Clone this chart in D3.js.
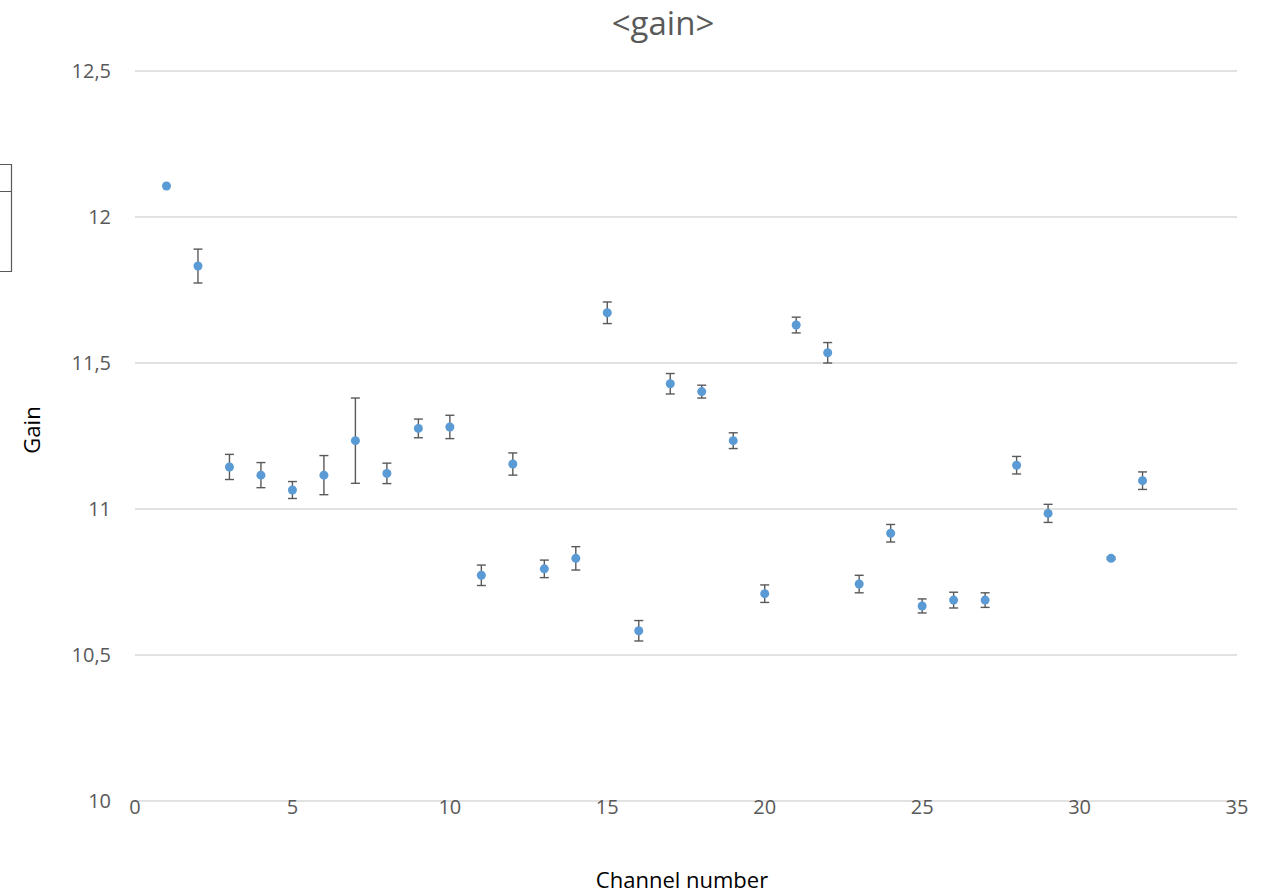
<!DOCTYPE html>
<html>
<head>
<meta charset="utf-8">
<script src="https://cdn.jsdelivr.net/npm/d3@7"></script>
<style>
  body { margin: 0; background: #fff; }
  svg text { font-family: "Open Sans", "Noto Sans", sans-serif; }
</style>
</head>
<body>
<svg id="chart" width="1265" height="895"></svg>
<script>
// ===== DATA =====
const channels = [1, 2, 3, 4, 5, 6, 7, 8, 9, 10, 11, 12, 13, 14, 15, 16,
  17, 18, 19, 20, 21, 22, 23, 24, 25, 26, 27, 28, 29, 31, 32];
const gains = [12.106, 11.832, 11.144, 11.116, 11.065, 11.116, 11.234, 11.122,
  11.276, 11.281, 10.773, 11.154, 10.795, 10.831, 11.672, 10.583,
  11.429, 11.402, 11.234, 10.710, 11.630, 11.535, 10.743, 10.917,
  10.668, 10.688, 10.688, 11.150, 10.985, 10.831, 11.097];
const errors = [0, 0.058, 0.043, 0.043, 0.029, 0.067, 0.146, 0.035,
  0.032, 0.04, 0.035, 0.038, 0.03, 0.04, 0.037, 0.035,
  0.035, 0.022, 0.027, 0.03, 0.027, 0.035, 0.03, 0.03,
  0.024, 0.027, 0.025, 0.03, 0.031, 0.004, 0.03];
const xTicks = [0, 5, 10, 15, 20, 25, 30, 35];
const yTicks = [10, 10.5, 11, 11.5, 12, 12.5];

const points = channels.map((c, i) => ({ ch: c, gain: gains[i], err: errors[i] }));

// ===== LAYOUT =====
const svg = d3.select("#chart");
const plotLeft = 135, plotRight = 1237, plotTop = 71, plotBottom = 801;

const x = d3.scaleLinear().domain([0, 35]).range([plotLeft, plotRight]);
const y = d3.scaleLinear().domain([10, 12.5]).range([plotBottom, plotTop]);

// gridlines
svg.append("g")
  .selectAll("line")
  .data(yTicks)
  .join("line")
  .attr("x1", plotLeft)
  .attr("x2", plotRight)
  .attr("y1", d => y(d))
  .attr("y2", d => y(d))
  .attr("stroke", "#d9d9d9")
  .attr("stroke-width", 1.3);

// y tick labels
const fmt = d => String(d).replace(".", ",");
svg.append("g")
  .selectAll("text")
  .data(yTicks)
  .join("text")
  .attr("x", 111)
  .attr("y", d => y(d) + 7)
  .attr("text-anchor", "end")
  .attr("font-size", "20px")
  .attr("fill", "#595959")
  .text(fmt);

// x tick labels
svg.append("g")
  .selectAll("text")
  .data(xTicks)
  .join("text")
  .attr("x", d => x(d))
  .attr("y", 814)
  .attr("text-anchor", "middle")
  .attr("font-size", "20px")
  .attr("fill", "#595959")
  .text(d => d);

// title + axis titles
svg.append("text")
  .attr("x", 663)
  .attr("y", 35)
  .attr("text-anchor", "middle")
  .attr("font-size", "33px")
  .attr("fill", "#595959")
  .text("<gain>");

svg.append("text")
  .attr("x", 682)
  .attr("y", 888)
  .attr("text-anchor", "middle")
  .attr("font-size", "22px")
  .attr("fill", "#000")
  .text("Channel number");

svg.append("text")
  .attr("transform", "translate(40,430) rotate(-90)")
  .attr("text-anchor", "middle")
  .attr("font-size", "22px")
  .attr("fill", "#000")
  .text("Gain");

// clipped legend box at left edge
svg.append("path")
  .attr("d", "M-1,164.5 H11.5 V271.5 H-1 M-1,191.5 H11.5")
  .attr("fill", "none")
  .attr("stroke", "#595959")
  .attr("stroke-width", 1.2);

// error bars
const bars = svg.append("g")
  .attr("stroke", "#595959")
  .attr("stroke-width", 1.4)
  .selectAll("g")
  .data(points.filter(d => d.err > 0))
  .join("g");

bars.append("line")
  .attr("x1", d => x(d.ch))
  .attr("x2", d => x(d.ch))
  .attr("y1", d => y(d.gain + d.err))
  .attr("y2", d => y(d.gain - d.err));

bars.append("line")
  .attr("x1", d => x(d.ch) - 4.5)
  .attr("x2", d => x(d.ch) + 4.5)
  .attr("y1", d => y(d.gain + d.err))
  .attr("y2", d => y(d.gain + d.err));

bars.append("line")
  .attr("x1", d => x(d.ch) - 4.5)
  .attr("x2", d => x(d.ch) + 4.5)
  .attr("y1", d => y(d.gain - d.err))
  .attr("y2", d => y(d.gain - d.err));

// markers
svg.append("g")
  .selectAll("circle")
  .data(points)
  .join("circle")
  .attr("cx", d => x(d.ch))
  .attr("cy", d => y(d.gain))
  .attr("r", 4.5)
  .attr("fill", "#5b9bd5");
</script>
</body>
</html>
